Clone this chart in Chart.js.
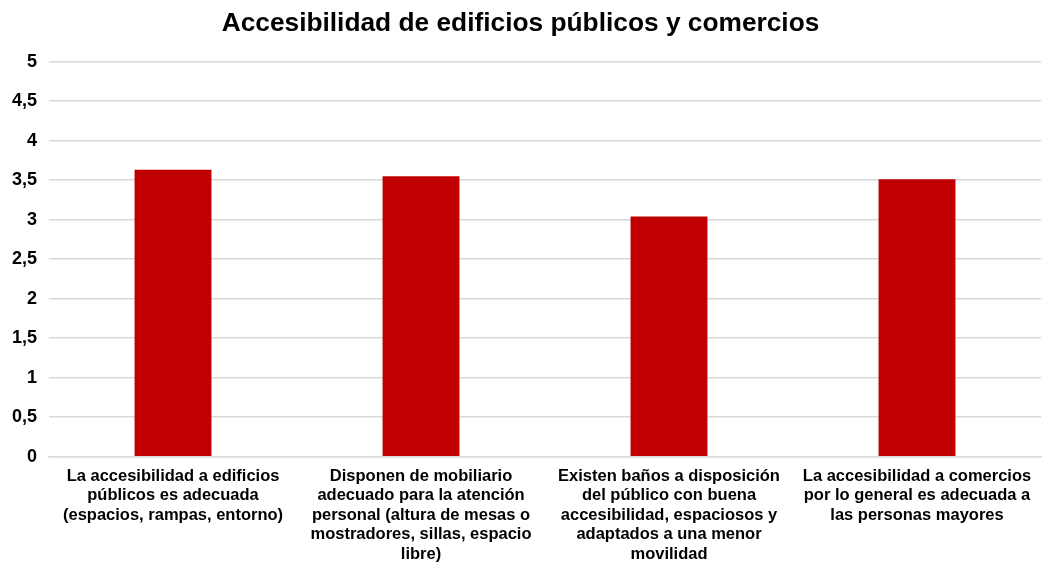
<!DOCTYPE html>
<html>
<head>
<meta charset="utf-8">
<script src="https://cdn.jsdelivr.net/npm/chart.js@4/dist/chart.umd.min.js"></script>
<style>
  html, body { margin: 0; padding: 0; background: #fff; }
  #wrap { width: 1049px; height: 565px; position: relative; }
</style>
</head>
<body>
<div id="wrap"><canvas id="chart"></canvas></div>
<script>
// categories (wrapped as in the reference)
const categories = [
  ["La accesibilidad a edificios", "públicos es adecuada", "(espacios, rampas, entorno)"],
  ["Disponen de mobiliario", "adecuado para la atención", "personal (altura de mesas o", "mostradores, sillas, espacio", "libre)"],
  ["Existen baños a disposición", "del público con buena", "accesibilidad, espaciosos y", "adaptados a una menor", "movilidad"],
  ["La accesibilidad a comercios", "por lo general es adecuada a", "las personas mayores"]
];
const values = [3.63, 3.55, 3.04, 3.51];
const yTicks = [0, 0.5, 1, 1.5, 2, 2.5, 3, 3.5, 4, 4.5, 5];

const ctx = document.getElementById("chart").getContext("2d");
new Chart(ctx, {
  type: "bar",
  data: {
    labels: categories,
    datasets: [{
      data: values,
      backgroundColor: "#C00000",
      borderWidth: 0,
      barPercentage: 0.31,
      categoryPercentage: 1
    }]
  },
  options: {
    responsive: true,
    maintainAspectRatio: false,
    animation: false,
    layout: { padding: { left: 0, right: 8, top: 4, bottom: -1 } },
    plugins: {
      legend: { display: false },
      tooltip: { enabled: false },
      title: {
        display: true,
        text: "Accesibilidad de edificios públicos y comercios",
        color: "#000",
        font: { family: "Liberation Sans, Arial, sans-serif", size: 26.3, weight: "bold" },
        padding: { top: 4, bottom: 22 }
      }
    },
    scales: {
      y: {
        min: 0,
        max: 5,
        afterBuildTicks: (axis) => { axis.ticks = yTicks.map(v => ({ value: v })); },
        ticks: {
          color: "#000",
          padding: 12,
          font: { family: "Liberation Sans, Arial, sans-serif", size: 18, weight: "bold" },
          callback: (v) => String(v).replace(".", ",")
        },
        grid: { color: "#d9d9d9", lineWidth: 1.5, drawTicks: false },
        border: { display: false }
      },
      x: {
        ticks: {
          color: "#000",
          padding: 2,
          autoSkip: false,
          maxRotation: 0,
          font: { family: "Liberation Sans, Arial, sans-serif", size: 16.5, weight: "bold", lineHeight: 1.18 }
        },
        grid: { display: false },
        border: { color: "#d9d9d9", width: 1.5 }
      }
    }
  }
});
</script>
</body>
</html>
